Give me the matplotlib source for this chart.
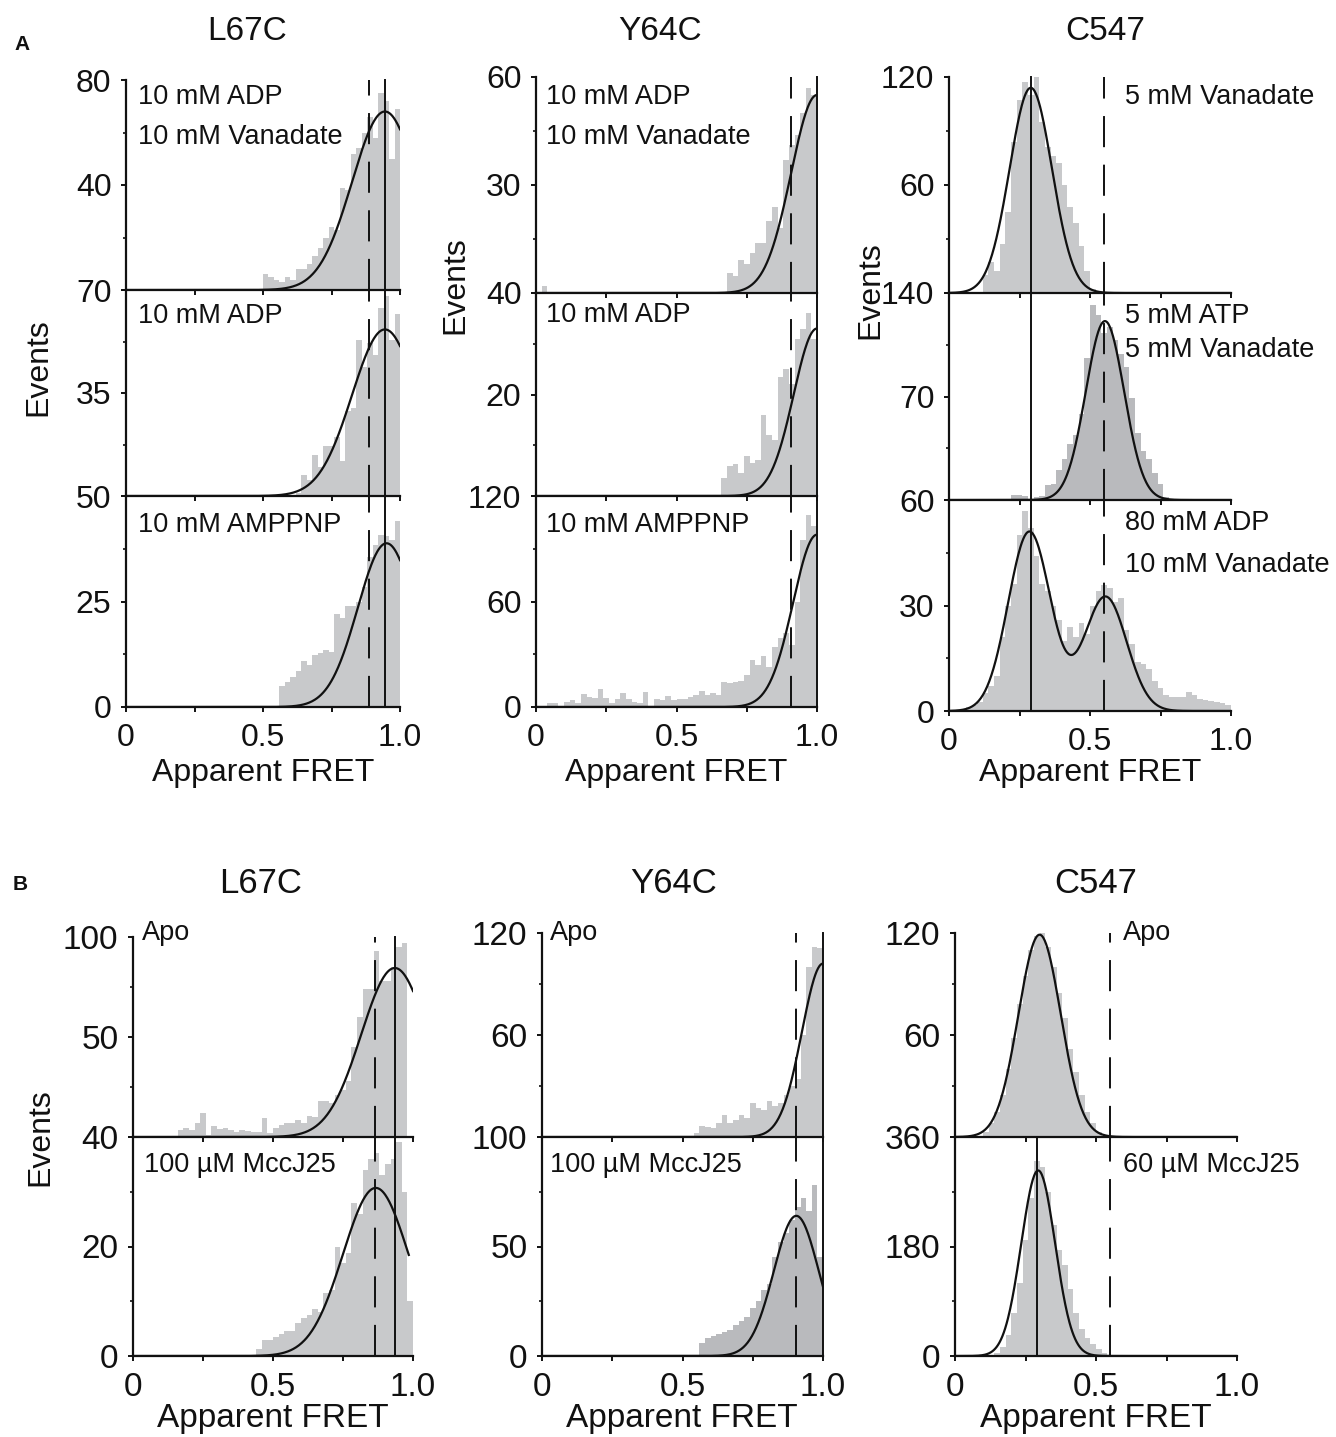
import numpy as np
import matplotlib
matplotlib.use('Agg')
import matplotlib.pyplot as plt

plt.rcParams['font.family'] = ['Liberation Sans', 'DejaVu Sans']

W, H = 1336, 1437
BIN = 0.02

# ---------------- data (histogram counts, bin width 0.02) ----------------
# Panel A, L67C
A_L67C_VO_START = 0.50
A_L67C_VO = [6, 5, 4, 3, 5, 4, 8, 8, 10, 13, 16, 20, 24, 23, 39, 38, 52, 54, 60, 66, 58, 75, 72, 50, 69]
A_L67C_ADP_START = 0.62
A_L67C_ADP = [1, 7, 5.5, 14, 10, 17, 17, 20, 12, 29, 30, 53, 44, 52, 48, 64, 68, 53, 62]
A_L67C_AMP_START = 0.56
A_L67C_AMP = [5, 6, 7, 8.5, 10.8, 10, 12.4, 12.8, 13.6, 13, 22, 21, 24, 24, 25, 28.5, 35.6, 38.4, 40.8, 40.5, 39.6, 44]
# Panel A, Y64C
A_Y64C_VO_START = 0.02
A_Y64C_VO = [2, 0, 0, 0, 0, 0, 0, 0, 0, 0, 0, 0, 0, 0, 0, 0, 0, 0, 0, 0, 0, 0, 0, 0, 0, 0, 0, 0, 0, 0, 0, 0, 0,
             5.6, 4.6, 9.3, 8, 11, 14, 14, 20, 24, 18, 37, 41, 44, 50, 57, 55]
A_Y64C_ADP_START = 0.66
A_Y64C_ADP = [3.5, 6, 6.4, 4.5, 7.8, 6.5, 7, 16, 12, 11, 23.5, 25, 22, 31, 33, 36, 31]
A_Y64C_AMP_START = 0.04
A_Y64C_AMP = [2, 2, 0, 3, 4, 2.5, 7.5, 5.5, 5, 10, 5, 2.5, 4.5, 8, 4.5, 3, 2.5, 8.5, 0, 4.5,
              4, 6.5, 4, 4.5, 4.5, 5.5, 7, 9, 7, 8, 7, 14, 13.5, 14, 15, 18, 27, 24, 29, 23,
              34, 39, 42, 35, 60, 95, 109, 103]
# Panel A, C547
A_C547_VO_START = 0.12
A_C547_VO = [10, 17, 12, 27, 45, 84, 107, 117, 110, 121, 95, 81, 76, 72, 60, 48, 39, 26, 12, 2]
A_C547_ATP_START = 0.22
A_C547_ATP = [3.4, 3.4, 3, 1, 2, 3, 10, 11, 20, 28, 38, 44, 58, 96, 132, 125, 113, 117, 108, 99,
              90, 69, 45, 33, 28, 18, 11, 2]
A_C547_ADP_START = 0.04
A_C547_ADP = [0.5, 1, 1.6, 2.5, 5, 7, 10, 21, 30, 36, 50, 57, 52, 44, 36, 34, 30, 26, 20, 24,
              21, 25, 22, 30, 34, 35.8, 35, 31, 32, 23, 19, 14, 13.5, 12, 8.5, 6.5, 4.5, 4, 4, 4,
              5.4, 4.5, 3.5, 3, 2.8, 2.7, 2.3, 1.6]
# Panel B, L67C
B_L67C_APO_START = 0.16
B_L67C_APO = [3.7, 4.5, 3.7, 7, 12, 1, 5.7, 4, 4.5, 3.5, 2.5, 3.5, 3, 2.5, 2.5, 9.5, 2, 4.5, 6, 7,
              7, 8.5, 7, 10.3, 10, 18, 18, 17, 21, 23.7, 28, 45, 60, 74, 74, 93, 78, 78, 85, 95, 97]
B_L67C_MCC_START = 0.44
B_L67C_MCC = [1.2, 2.9, 2.9, 3.5, 4, 4.5, 4.5, 6, 6.9, 7.5, 8.6, 8, 11.5, 12, 20, 17, 18.8, 28, 26, 34,
              36, 37, 33, 35, 36, 39, 30, 10]
# Panel B, Y64C
B_Y64C_APO_START = 0.54
B_Y64C_APO = [2.4, 6.7, 6, 5.5, 8.2, 13, 8, 10, 13, 11, 20, 17, 16, 21, 18, 20, 25, 30, 34, 60, 100, 112, 111]
B_Y64C_MCC_START = 0.56
B_Y64C_MCC = [6, 8, 9, 10, 11, 12, 14, 16, 18, 22, 25, 30, 33, 45, 52, 56, 62, 68, 72, 66, 78, 45]
# Panel B, C547
B_C547_APO_START = 0.10
B_C547_APO = [3, 8, 15, 25, 40, 58, 78, 95, 110, 118, 120, 112, 100, 85, 70, 52, 38, 25, 15, 8, 3]
B_C547_MCC_START = 0.14
B_C547_MCC = [5, 15, 35, 70, 120, 190, 260, 320, 310, 270, 215, 175, 150, 110, 70, 45, 30, 20, 12, 5]

# Gaussian fit parameters (amplitude, centre, sigma)
FIT_A_L67C = [[(68, 0.945, 0.12)], [(56.6, 0.945, 0.12)], [(38.8, 0.951, 0.105)]]
FIT_A_Y64C = [[(55, 1.0, 0.092)], [(33, 1.0, 0.083)], [(98, 1.0, 0.085)]]
FIT_A_C547 = [[(114, 0.29, 0.075)], [(121, 0.553, 0.068)], [(51, 0.285, 0.075), (32.5, 0.555, 0.075)]]
FIT_B_L67C = [[(84.5, 0.935, 0.12)], [(30.7, 0.867, 0.117)]]
FIT_B_Y64C = [[(102, 1.0, 0.075)], [(64, 0.905, 0.08)]]
FIT_B_C547 = [[(119, 0.30, 0.075)], [(305, 0.295, 0.06)]]

# reference lines (FRET values)
LINES_A_L67C = {'dashed': 0.887, 'solid': 0.945}
LINES_A_Y64C = {'dashed': 0.907, 'solid': 1.0}
LINES_A_C547 = {'dashed': 0.549, 'solid': 0.29}
LINES_B_L67C = {'dashed': 0.863, 'solid': 0.936}
LINES_B_Y64C = {'dashed': 0.905, 'solid': 1.0}
LINES_B_C547 = {'dashed': 0.55, 'solid': 0.29}

# y axis tops per panel
YTOP_A_L67C = [80, 70, 50]
YTOP_A_Y64C = [60, 40, 120]
YTOP_A_C547 = [120, 140, 60]
YTOP_B_L67C = [100, 40]
YTOP_B_Y64C = [120, 100]
YTOP_B_C547 = [120, 360]

LIGHT = '#c8c9cb'
DARK = '#b9babd'
INK = '#111111'

fig = plt.figure(figsize=(W / 100, H / 100), dpi=100)


def add_ax(x0, x1, ytop, ybot):
    return fig.add_axes([x0 / W, 1 - ybot / H, (x1 - x0) / W, (ybot - ytop) / H])


def gauss_sum(x, params):
    y = np.zeros_like(x)
    for a, m, s in params:
        y = y + a * np.exp(-(x - m) ** 2 / (2 * s ** 2))
    return y


def draw_panel(ax, start, counts, fit, ytop, bottom, lines, color=LIGHT, fsz=23,
               curve_end=1.0, solid=True):
    edges = start + BIN * np.arange(len(counts))
    ax.bar(edges, counts, width=BIN, align='edge', color=color, linewidth=0, zorder=1)
    xs = np.linspace(0, curve_end, 400)
    ax.plot(xs, gauss_sum(xs, fit), color=INK, lw=1.6, zorder=3)
    ax.axvline(lines['dashed'], color=INK, lw=1.4, ls=(0, (16, 9)), zorder=4, clip_on=False)
    if solid:
        ax.axvline(lines['solid'], color=INK, lw=1.4, zorder=4, clip_on=False)
    ax.set_xlim(0, 1.0)
    ax.set_ylim(0, ytop)
    for s in ['top', 'right']:
        ax.spines[s].set_visible(False)
    for s in ['left', 'bottom']:
        ax.spines[s].set_linewidth(1.6)
        ax.spines[s].set_color(INK)
    ax.patch.set_alpha(0)
    ax.set_xticks([0, 0.25, 0.5, 0.75, 1.0])
    if bottom:
        ax.set_xticklabels(['0', '', '0.5', '', '1.0'])
    else:
        ax.set_xticklabels([])
    mid = ytop / 2
    ax.set_yticks([0, mid, ytop])
    ax.set_yticks([ytop / 4, 3 * ytop / 4], minor=True)
    lab_mid = str(int(mid)) if mid == int(mid) else str(mid)
    ax.set_yticklabels(['0' if bottom else '', lab_mid, str(int(ytop))])
    ax.tick_params(axis='both', which='major', direction='out', length=3.5, width=1.4,
                   labelsize=fsz, color=INK, labelcolor=INK)
    ax.tick_params(axis='y', which='major', pad=7)
    ax.tick_params(axis='x', which='major', pad=8)
    ax.tick_params(axis='y', which='minor', direction='out', length=2, width=1.2, color=INK)


def ftext(x, y, s, size=19.5, ha='left', **kw):
    fig.text(x / W, 1 - y / H, s, fontsize=size, ha=ha, va='center', color=INK, **kw)


# ---------------- Panel A ----------------
colA = [
    dict(x0=126, x1=400, rows=[(80, 290), (290, 496), (496, 707)],
         data=[(A_L67C_VO_START, A_L67C_VO), (A_L67C_ADP_START, A_L67C_ADP), (A_L67C_AMP_START, A_L67C_AMP)],
         fits=FIT_A_L67C, ytops=YTOP_A_L67C, lines=LINES_A_L67C, colors=[LIGHT, LIGHT, LIGHT]),
    dict(x0=536, x1=817, rows=[(77, 293), (293, 496), (496, 707)],
         data=[(A_Y64C_VO_START, A_Y64C_VO), (A_Y64C_ADP_START, A_Y64C_ADP), (A_Y64C_AMP_START, A_Y64C_AMP)],
         fits=FIT_A_Y64C, ytops=YTOP_A_Y64C, lines=LINES_A_Y64C, colors=[LIGHT, LIGHT, LIGHT]),
    dict(x0=949, x1=1231, rows=[(77, 293), (293, 500), (500, 711)],
         data=[(A_C547_VO_START, A_C547_VO), (A_C547_ATP_START, A_C547_ATP), (A_C547_ADP_START, A_C547_ADP)],
         fits=FIT_A_C547, ytops=YTOP_A_C547, lines=LINES_A_C547, colors=[LIGHT, DARK, LIGHT]),
]
for c in colA:
    n = len(c['rows'])
    for i, (yt, yb) in enumerate(c['rows']):
        ax = add_ax(c['x0'], c['x1'], yt, yb)
        st, cnt = c['data'][i]
        draw_panel(ax, st, cnt, c['fits'][i], c['ytops'][i], i == n - 1, c['lines'], color=c['colors'][i])

# ---------------- Panel B ----------------
colB = [
    dict(x0=133, x1=413, rows=[(937, 1137), (1137, 1356)],
         data=[(B_L67C_APO_START, B_L67C_APO), (B_L67C_MCC_START, B_L67C_MCC)],
         fits=FIT_B_L67C, ytops=YTOP_B_L67C, lines=LINES_B_L67C, colors=[LIGHT, LIGHT],
         ends=[1.0, 0.985], solid=[True, True]),
    dict(x0=542, x1=823, rows=[(933, 1137), (1137, 1356)],
         data=[(B_Y64C_APO_START, B_Y64C_APO), (B_Y64C_MCC_START, B_Y64C_MCC)],
         fits=FIT_B_Y64C, ytops=YTOP_B_Y64C, lines=LINES_B_Y64C, colors=[LIGHT, DARK],
         ends=[1.0, 1.0], solid=[True, True]),
    dict(x0=955, x1=1237, rows=[(933, 1137), (1137, 1356)],
         data=[(B_C547_APO_START, B_C547_APO), (B_C547_MCC_START, B_C547_MCC)],
         fits=FIT_B_C547, ytops=YTOP_B_C547, lines=LINES_B_C547, colors=[LIGHT, LIGHT],
         ends=[1.0, 1.0], solid=[False, True]),
]
for c in colB:
    n = len(c['rows'])
    for i, (yt, yb) in enumerate(c['rows']):
        ax = add_ax(c['x0'], c['x1'], yt, yb)
        st, cnt = c['data'][i]
        draw_panel(ax, st, cnt, c['fits'][i], c['ytops'][i], i == n - 1, c['lines'],
                   color=c['colors'][i], fsz=24, curve_end=c['ends'][i], solid=c['solid'][i])

# ---------------- texts ----------------
ftext(22, 44, 'A', size=15, ha='center', fontweight='bold')
ftext(20, 884, 'B', size=15, ha='center', fontweight='bold')
for x, s in [(247, 'L67C'), (660, 'Y64C'), (1105, 'C547')]:
    ftext(x, 31, s, size=24, ha='center')
for x, s in [(261, 'L67C'), (674, 'Y64C'), (1096, 'C547')]:
    ftext(x, 883, s, size=25, ha='center')

for x, y in [(263, 773), (676, 773), (1090, 773)]:
    ftext(x, y, 'Apparent FRET', size=23, ha='center')
for x, y in [(273, 1418), (682, 1418), (1096, 1418)]:
    ftext(x, y, 'Apparent FRET', size=24, ha='center')

for x, y in [(38, 367), (455, 285), (870, 290), (40, 1137)]:
    fig.text(x / W, 1 - y / H, 'Events', fontsize=23, ha='center', va='center',
             rotation=90, color=INK)

# condition labels
ftext(138, 97, '10 mM ADP')
ftext(138, 137, '10 mM Vanadate')
ftext(138, 316, '10 mM ADP')
ftext(138, 525, '10 mM AMPPNP')
ftext(546, 97, '10 mM ADP')
ftext(546, 137, '10 mM Vanadate')
ftext(546, 315, '10 mM ADP')
ftext(546, 525, '10 mM AMPPNP')
ftext(1125, 97, '5 mM Vanadate')
ftext(1125, 316, '5 mM ATP')
ftext(1125, 350, '5 mM Vanadate')
ftext(1125, 523, '80 mM ADP')
ftext(1125, 565, '10 mM Vanadate')
ftext(142, 933, 'Apo')
ftext(144, 1165, '100 µM MccJ25')
ftext(550, 933, 'Apo')
ftext(550, 1165, '100 µM MccJ25')
ftext(1123, 933, 'Apo')
ftext(1123, 1165, '60 µM MccJ25')

fig.savefig('out.png', dpi=100)
